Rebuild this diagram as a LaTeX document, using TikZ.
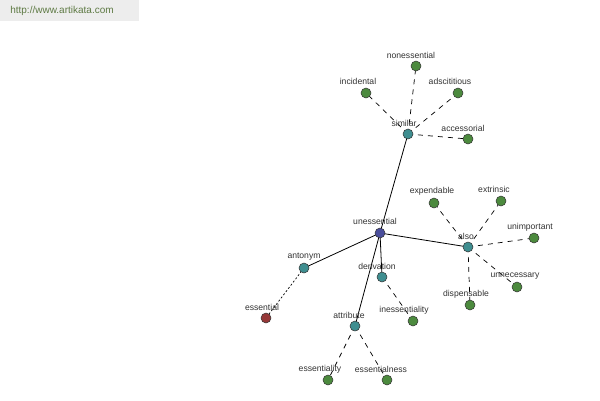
\documentclass[tikz,border=0pt]{standalone}
\usepackage{fontspec}
\setmainfont{Liberation Sans}
\definecolor{cblue}{HTML}{4A4E9C}
\definecolor{cteal}{HTML}{3F8E90}
\definecolor{cred}{HTML}{963838}
\definecolor{cgreen}{HTML}{4C8A3E}
\definecolor{ctext}{HTML}{333333}
\definecolor{cwm}{HTML}{5E7A44}
\begin{document}
\begin{tikzpicture}[x=1pt,y=-1pt,
  dot/.style={circle,draw=black!80,line width=0.5pt,minimum size=10pt,inner sep=0pt},
  lbl/.style={font=\fontsize{8.6}{9}\selectfont,text=ctext,inner sep=0pt},
  rel/.style={line width=0.8pt,black},
  dsh/.style={line width=0.7pt,black,dash pattern=on 5pt off 5pt},
  dtd/.style={line width=0.7pt,black,dash pattern=on 2pt off 2pt}]
\useasboundingbox (0,0) rectangle (600,400);
\fill[white] (0,0) rectangle (600,400);
\fill[black!7] (0,0) rectangle (139,21);
\node[font=\fontsize{10}{11}\selectfont,text=cwm,inner sep=0pt] (wm) at (62,11) {http://www.artikata.com};
% node coordinates
\coordinate (un) at (380,233);
\coordinate (si) at (408,134);
\coordinate (ne) at (416,66);
\coordinate (in) at (366,93);
\coordinate (ad) at (458,93);
\coordinate (ac) at (468,139);
\coordinate (al) at (468,247);
\coordinate (ex) at (434,203);
\coordinate (et) at (501,201);
\coordinate (ui) at (534,238);
\coordinate (uc) at (517,287);
\coordinate (di) at (470,305);
\coordinate (an) at (304,268);
\coordinate (es) at (266,318);
\coordinate (de) at (382,277);
\coordinate (ie) at (413,321);
\coordinate (at) at (355,326);
\coordinate (ey) at (328,380);
\coordinate (en) at (387,380);
% edges
\draw[rel] (un) -- (si);
\draw[rel] (un) -- (al);
\draw[rel] (un) -- (an);
\draw[rel] (un) -- (de);
\draw[rel] (un) -- (at);
\draw[dsh] (si) -- (ne);
\draw[dsh] (si) -- (in);
\draw[dsh] (si) -- (ad);
\draw[dsh] (si) -- (ac);
\draw[dsh] (al) -- (ex);
\draw[dsh] (al) -- (et);
\draw[dsh] (al) -- (ui);
\draw[dsh] (al) -- (uc);
\draw[dsh] (al) -- (di);
\draw[dtd] (an) -- (es);
\draw[dsh] (de) -- (ie);
\draw[dsh] (at) -- (ey);
\draw[dsh] (at) -- (en);
% nodes
\node[dot,fill=cblue] (nun) at (un) {};
\node[dot,fill=cteal] (nsi) at (si) {};
\node[dot,fill=cgreen] (nne) at (ne) {};
\node[dot,fill=cgreen] (nin) at (in) {};
\node[dot,fill=cgreen] (nad) at (ad) {};
\node[dot,fill=cgreen] (nac) at (ac) {};
\node[dot,fill=cteal] (nal) at (al) {};
\node[dot,fill=cgreen] (nex) at (ex) {};
\node[dot,fill=cgreen] (net) at (et) {};
\node[dot,fill=cgreen] (nui) at (ui) {};
\node[dot,fill=cgreen] (nuc) at (uc) {};
\node[dot,fill=cgreen] (ndi) at (di) {};
\node[dot,fill=cteal] (nan) at (an) {};
\node[dot,fill=cred] (nes) at (es) {};
\node[dot,fill=cteal] (nde) at (de) {};
\node[dot,fill=cgreen] (nie) at (ie) {};
\node[dot,fill=cteal] (nat) at (at) {};
\node[dot,fill=cgreen] (ney) at (ey) {};
\node[dot,fill=cgreen] (nen) at (en) {};
% labels
\node[lbl] (lun) at (375,221) {unessential};
\node[lbl] (lsi) at (404,123) {similar};
\node[lbl] (lne) at (411,55) {nonessential};
\node[lbl] (lin) at (358,81) {incidental};
\node[lbl] (lad) at (450,81) {adscititious};
\node[lbl] (lac) at (463,128) {accessorial};
\node[lbl] (lal) at (466,236) {also};
\node[lbl] (lex) at (432,191) {expendable};
\node[lbl] (let) at (494,189) {extrinsic};
\node[lbl] (lui) at (530,227) {unimportant};
\node[lbl] (luc) at (515,276) {unnecessary};
\node[lbl] (ldi) at (466,294) {dispensable};
\node[lbl] (lan) at (304,257) {antonym};
\node[lbl] (les) at (262,307) {essential};
\node[lbl] (lde) at (377,266) {derivation};
\node[lbl] (lie) at (404,310) {inessentiality};
\node[lbl] (lat) at (349,315) {attribute};
\node[lbl] (ley) at (320,369) {essentiality};
\node[lbl] (len) at (381,369) {essentialness};
\end{tikzpicture}
\end{document}
